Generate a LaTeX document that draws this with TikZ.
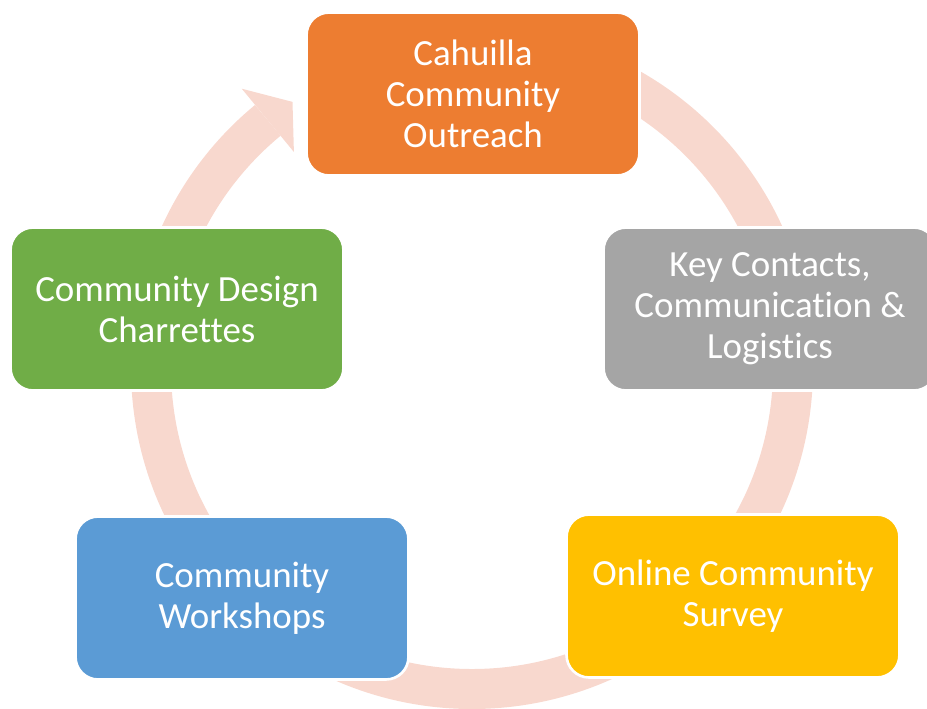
\documentclass[tikz,border=0pt]{standalone}
\usepackage{fontspec}
\setmainfont{Carlito}[Ligatures=NoCommon]
\usepackage{xcolor}
\usepackage{tikz}
\definecolor{ringpink}{RGB}{248,216,206}
\definecolor{boxorange}{RGB}{237,125,49}
\definecolor{boxgray}{RGB}{165,165,165}
\definecolor{boxyellow}{RGB}{255,192,0}
\definecolor{boxblue}{RGB}{91,155,213}
\definecolor{boxgreen}{RGB}{112,173,71}

\begin{document}
\begin{tikzpicture}[x=0.02cm,y=-0.02cm,
    box/.style={draw=white,line width=1.5pt,rounded corners=0.45cm,
      minimum width=6.66cm,minimum height=3.26cm,inner sep=0pt,
      align=center,text=white,font=\fontsize{21}{23.3}\selectfont}]
    \useasboundingbox (0,0) rectangle (927,708);
    \coordinate (c) at (472,368);
    \draw[ringpink,line width=0.8cm] (c) ++(-90:321) arc[start angle=-90,end angle=230.5,radius=321];
    \fill[ringpink] ([shift={(c)}]230.5:362) -- ([shift={(c)}]236:321) -- ([shift={(c)}]230.5:280) -- cycle;
    \node[box,fill=boxorange] (1) at (473,94) {Cahuilla\\Community\\Outreach};
    \node[box,fill=boxgray] (2) at (770,309) {Key Contacts,\\Communication \&\\Logistics};
    \node[box,fill=boxyellow] (3) at (733,596) {Online Community\\Survey};
    \node[box,fill=boxblue] (4) at (242,598) {Community\\Workshops};
    \node[box,fill=boxgreen] (5) at (177,309) {Community Design\\Charrettes};
\end{tikzpicture}
\end{document}
